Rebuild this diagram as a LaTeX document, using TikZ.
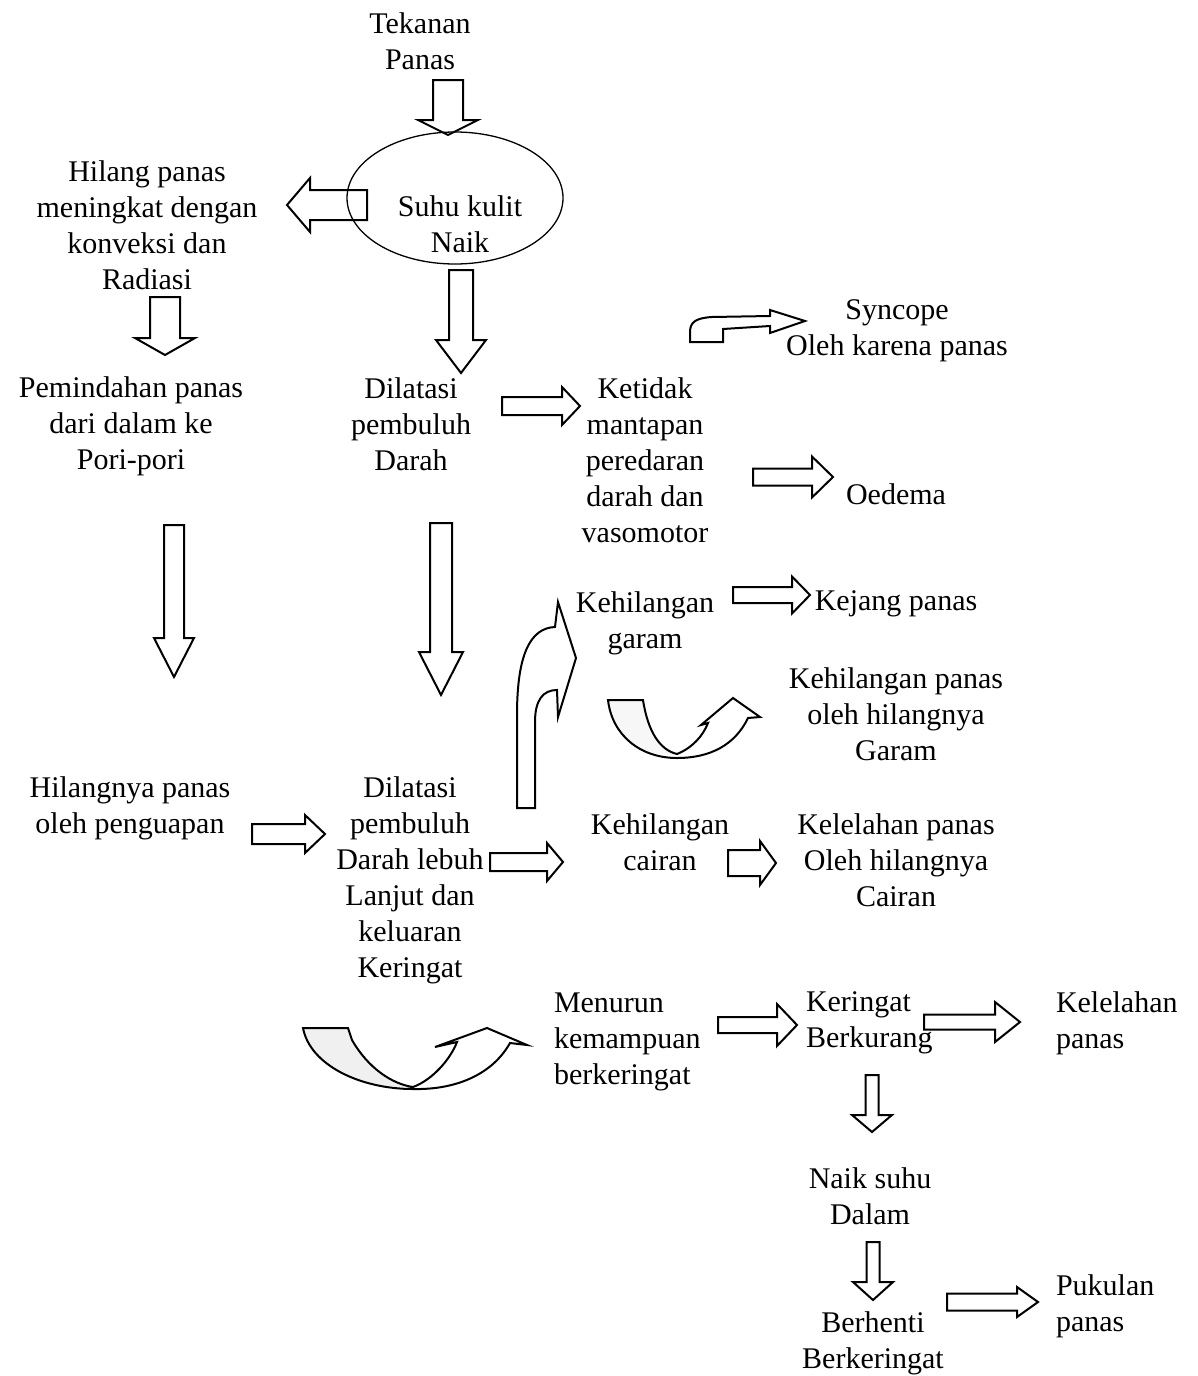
\documentclass[tikz,border=0pt]{standalone}
\usepackage{fontspec}
\setmainfont{Liberation Serif}
\usetikzlibrary{calc, shapes.geometric}
\tikzset{
    every node/.style={align=center, inner sep=0pt, font=\fontsize{30}{36}\selectfont}, % all the labels
    left text/.style={align=left, anchor=west}, % labels set flush left
    fat/.style n args={3}{to path={let \p1=(\tikztostart), \p2=(\tikztotarget),
        \n1={atan2(\y2-\y1,\x2-\x1)}, \n2={veclen(\x2-\x1,\y2-\y1)} in
        [shift={(\p1)}, rotate=\n1] (0pt,-#1pt) -- (\n2-#3pt,-#1pt) -- (\n2-#3pt,-#2pt)
        -- (\n2,0pt) -- (\n2-#3pt,#2pt) -- (\n2-#3pt,#1pt) -- (0pt,#1pt) -- cycle}}, % hollow block arrow: shaft half width, head half width, head length
}
\begin{document}
\begin{tikzpicture}[x=1pt, y=-1pt, line width=2pt, line join=miter]
\useasboundingbox (0,0) rectangle (1197,1376);

\node (tek) at (420,41) {Tekanan\\Panas};
\node[draw, ellipse, line width=1.3pt, minimum width=216pt, minimum height=132pt] (kulit) at (455,198) {};
\node (suhu) at (460,224) {Suhu kulit\\Naik};
\node (hil) at (147,225) {Hilang panas\\meningkat dengan\\konveksi dan\\Radiasi};
\node (pem) at (131,426) {Pemindahan panas\\dari dalam ke\\Pori-pori};
\node (dil) at (411,424) {Dilatasi\\pembuluh\\Darah};
\node (ket) at (645,460) {Ketidak\\mantapan\\peredaran\\darah dan\\vasomotor};
\node (syn) at (897,331) {Syncope\\Oleh karena panas};
\node (oed) at (896,494) {Oedema};
\node (gar) at (645,623) {Kehilangan\\garam};
\node (kej) at (896,604) {Kejang panas};
\node (hgar) at (896,714) {Kehilangan panas\\oleh hilangnya\\Garam};
\node (hpen) at (130,808) {Hilangnya panas\\oleh penguapan};
\node (dil2) at (410,880) {Dilatasi\\pembuluh\\Darah lebuh\\Lanjut dan\\keluaran\\Keringat};
\node (cair) at (660,842) {Kehilangan\\cairan};
\node (kcair) at (896,860) {Kelelahan panas\\Oleh hilangnya\\Cairan};
\node[left text] (menu) at (553,1042) {Menurun\\kemampuan\\berkeringat};
\node[left text] (ker) at (805,1023) {Keringat\\Berkurang};
\node[left text] (kpan) at (1055,1023) {Kelelahan\\panas};
\node (naik) at (870,1196) {Naik suhu\\Dalam};
\node (berh) at (873,1343) {Berhenti\\Berkeringat};
\node[left text] (puk) at (1055,1306) {Pukulan\\panas};

% ends of the block arrows
\coordinate (tek-s) at (448,80);   \coordinate (tek-e) at (448,135);
\coordinate (hil-s) at (367,205);  \coordinate (hil-e) at (287,205);
\coordinate (dil-s) at (461,270);  \coordinate (dil-e) at (461,373);
\coordinate (pem-s) at (165,297);  \coordinate (pem-e) at (165,355);
\coordinate (ket-s) at (502,406);  \coordinate (ket-e) at (580,406);
\coordinate (oed-s) at (753,477);  \coordinate (oed-e) at (833,477);
\coordinate (hpen-s) at (174,525); \coordinate (hpen-e) at (174,677);
\coordinate (dil2-s) at (441,523); \coordinate (dil2-e) at (441,695);
\coordinate (kej-s) at (733,595);  \coordinate (kej-e) at (810,595);
\coordinate (pen-s) at (252,834);  \coordinate (pen-e) at (325,834);
\coordinate (cair-s) at (490,862); \coordinate (cair-e) at (563,862);
\coordinate (kc-s) at (728,863);   \coordinate (kc-e) at (776,863);
\coordinate (ker-s) at (718,1025); \coordinate (ker-e) at (797,1025);
\coordinate (kp-s) at (924,1022);  \coordinate (kp-e) at (1020,1022);
\coordinate (naik-s) at (872,1075); \coordinate (naik-e) at (872,1132);
\coordinate (berh-s) at (873,1242); \coordinate (berh-e) at (873,1300);
\coordinate (puk-s) at (947,1302); \coordinate (puk-e) at (1038,1302);

\draw[fat={15}{30}{15}] (tek-s) to (tek-e);
\draw[fat={15}{27}{23}] (hil-s) to (hil-e);
\draw[fat={12}{25}{33}] (dil-s) to (dil-e);
\draw[fat={15}{30}{17}] (pem-s) to (pem-e);
\draw[fat={9}{19}{18}] (ket-s) to (ket-e);
\draw[fat={8.5}{20.5}{21}] (oed-s) to (oed-e);
\draw[fat={10}{20}{39}] (hpen-s) to (hpen-e);
\draw[fat={11}{22}{43}] (dil2-s) to (dil2-e);
\draw[fat={8}{18.5}{18}] (kej-s) to (kej-e);
\draw[fat={10}{19}{20}] (pen-s) to (pen-e);
\draw[fat={9}{19}{16}] (cair-s) to (cair-e);
\draw[fat={13}{22}{16}] (kc-s) to (kc-e);
\draw[fat={8}{21}{20}] (ker-s) to (ker-e);
\draw[fat={7.5}{20}{25}] (kp-s) to (kp-e);
\draw[fat={6.5}{20}{17}] (naik-s) to (naik-e);
\draw[fat={6.5}{20}{18}] (berh-s) to (berh-e);
\draw[fat={8.5}{15}{21}] (puk-s) to (puk-e);

% bent and curved arrows
\draw (690,342) -- (723,342) -- (723,329) -- (770,326) -- (770,333) -- (805,321) -- (770,310) -- (770,316)
    -- (712,317) .. controls (696,318) and (690,322) .. (690,332) -- cycle;
\draw (517,808) -- (517,715) .. controls (517,655) and (530,628) .. (555,627) -- (558,602) -- (576,658)
    -- (558,717) -- (557,690) .. controls (543,690) and (535,700) .. (535,722) -- (535,808) -- cycle;
\fill[gray!6] (608,700) -- (643,700) .. controls (648,732) and (660,750) .. (677,754)
    .. controls (640,758) and (612,735) .. (608,700) -- cycle;
\draw (608,700) -- (643,700) .. controls (648,732) and (660,750) .. (677,754) .. controls (692,748) and (703,736) .. (708,723)
    -- (701,725) -- (733,698) -- (760,717) -- (748,718) .. controls (735,745) and (710,758) .. (677,758)
    .. controls (640,758) and (612,735) .. (608,700) -- cycle;
\fill[gray!12] (303,1028) -- (348,1028) -- (352,1040) .. controls (368,1068) and (392,1084) .. (413,1087)
    .. controls (360,1089) and (310,1065) .. (303,1028) -- cycle;
\draw (303,1028) -- (348,1028) -- (352,1040) .. controls (368,1068) and (392,1084) .. (413,1087)
    .. controls (432,1080) and (450,1060) .. (457,1042) -- (435,1047) -- (487,1028) -- (527,1045) -- (510,1043)
    .. controls (492,1075) and (455,1090) .. (413,1089) .. controls (360,1089) and (310,1065) .. (303,1028) -- cycle;
\end{tikzpicture}
\end{document}
